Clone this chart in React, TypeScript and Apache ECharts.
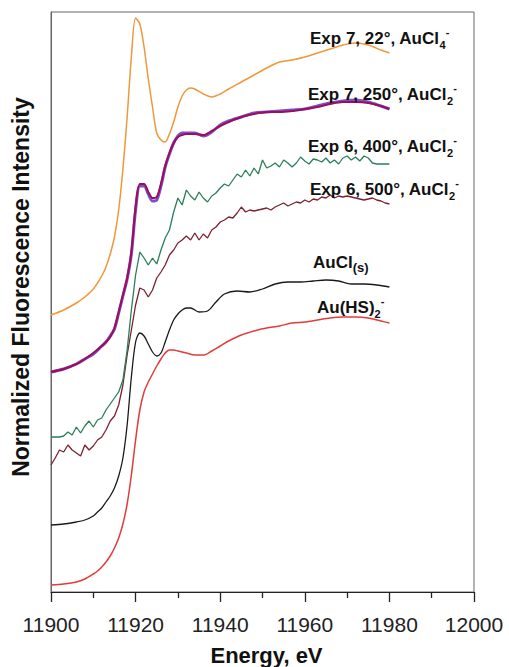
import React, { useEffect, useRef } from "react";
import * as echarts from "echarts";

const X_TICKS = [11900, 11920, 11940, 11960, 11980, 12000];

const ORANGE_E = [11900, 11903, 11906, 11908, 11910, 11911, 11912, 11913, 11914, 11915, 11916, 11917, 11918, 11919, 11920, 11921, 11922, 11923, 11924, 11925, 11926, 11927, 11928, 11929, 11930, 11931, 11932, 11933, 11934, 11936, 11938, 11940, 11942, 11945, 11948, 11951, 11954, 11957, 11960, 11963, 11966, 11969, 11972, 11975, 11978, 11980];
const ORANGE_V = [27.7, 28.2, 28.9, 29.5, 30.3, 30.9, 31.6, 32.5, 33.8, 35.5, 38.2, 42.3, 47.5, 53.5, 57.4, 56.8, 54.5, 51.3, 48.5, 45.9, 45.2, 45.0, 45.8, 47.0, 48.5, 49.6, 50.2, 50.4, 50.3, 49.8, 49.5, 49.8, 50.3, 51.0, 51.7, 52.4, 53.0, 53.2, 53.5, 53.9, 54.3, 54.7, 54.9, 54.7, 54.2, 53.9];

const MAG_E = [11900, 11903, 11906, 11908, 11910, 11912, 11913, 11914, 11915, 11916, 11917, 11918, 11919, 11920, 11921, 11922, 11923, 11924, 11925, 11926, 11927, 11928, 11929, 11930, 11931, 11932, 11934, 11936, 11938, 11940, 11942, 11945, 11948, 11951, 11954, 11957, 11960, 11963, 11966, 11969, 11972, 11975, 11978, 11980];
const MAG_V = [22.0, 22.3, 22.8, 23.3, 23.9, 24.6, 25.0, 25.5, 26.4, 28.0, 29.7, 31.4, 34.0, 38.5, 40.8, 40.8, 40.0, 39.4, 39.5, 40.8, 42.6, 43.9, 44.9, 45.5, 45.7, 45.8, 45.8, 45.7, 46.1, 46.6, 47.0, 47.5, 47.8, 48.0, 48.0, 48.1, 48.3, 48.5, 48.8, 49.0, 49.0, 48.9, 48.6, 48.3];
const FIT_V = [22.0, 22.3, 22.8, 23.3, 23.8, 24.6, 25.0, 25.6, 26.3, 27.9, 29.6, 31.3, 33.8, 38.2, 40.6, 40.6, 39.8, 39.1, 39.2, 40.6, 42.5, 43.8, 44.9, 45.6, 45.9, 45.9, 45.9, 45.6, 46.0, 46.7, 47.1, 47.5, 47.9, 48.0, 48.1, 48.2, 48.3, 48.6, 48.9, 49.1, 49.2, 49.0, 48.6, 48.3];

const NOISY_E = [11900, 11901, 11902, 11903, 11904, 11905, 11906, 11907, 11908, 11909, 11910, 11911, 11912, 11913, 11914, 11915, 11916, 11917, 11918, 11919, 11920, 11921, 11922, 11923, 11924, 11925, 11926, 11927, 11928, 11929, 11930, 11931, 11932, 11933, 11934, 11935, 11936, 11937, 11938, 11939, 11940, 11941, 11942, 11943, 11944, 11945, 11946, 11947, 11948, 11949, 11950, 11951, 11952, 11953, 11954, 11955, 11956, 11957, 11958, 11959, 11960, 11961, 11962, 11963, 11964, 11965, 11966, 11967, 11968, 11969, 11970, 11971, 11972, 11973, 11974, 11975, 11976, 11977, 11978, 11979, 11980];
const GREEN_V = [15.5, 15.5, 15.5, 15.6, 16.0, 15.7, 16.5, 15.9, 16.6, 17.1, 16.5, 17.2, 17.4, 18.2, 18.8, 19.4, 20.0, 21.2, 24.2, 28.2, 31.7, 34.0, 33.4, 32.7, 33.4, 32.8, 34.2, 35.4, 36.2, 38.0, 39.4, 38.7, 40.2, 39.6, 39.2, 40.0, 39.4, 39.0, 39.6, 39.9, 40.4, 40.8, 40.6, 41.2, 41.8, 41.5, 42.2, 41.6, 42.4, 41.8, 43.2, 42.4, 42.6, 42.9, 42.5, 43.2, 42.9, 42.5, 42.9, 43.5, 43.1, 42.8, 43.3, 43.2, 43.0, 43.4, 42.9, 43.2, 42.8, 43.4, 43.6, 43.2, 43.5, 43.1, 43.6, 43.4, 42.9, 42.8, 42.8, 42.8, 42.8];
const BROWN_V = [12.7, 13.4, 14.2, 14.0, 14.7, 14.2, 13.9, 13.6, 14.7, 14.2, 14.6, 15.2, 15.5, 16.2, 17.1, 17.6, 18.7, 20.7, 23.7, 26.2, 28.7, 30.4, 30.2, 29.5, 30.2, 31.4, 32.0, 32.7, 33.7, 34.2, 34.9, 35.2, 35.6, 35.2, 35.9, 35.2, 35.8, 35.4, 36.2, 36.5, 37.0, 37.2, 37.5, 37.4, 37.9, 38.5, 38.0, 38.2, 38.1, 38.2, 38.3, 38.4, 38.2, 38.5, 38.7, 38.9, 38.6, 38.8, 39.0, 38.9, 39.2, 39.0, 39.3, 39.2, 39.5, 39.4, 39.7, 39.4, 39.6, 39.5, 39.6, 39.5, 39.4, 39.3, 39.2, 39.3, 39.4, 39.2, 39.1, 38.9, 38.8];

const BLACK_E = [11900, 11903, 11906, 11908, 11910, 11911, 11912, 11913, 11914, 11915, 11916, 11917, 11918, 11919, 11920, 11921, 11922, 11923, 11924, 11925, 11926, 11927, 11928, 11929, 11930, 11931, 11932, 11933, 11935, 11937, 11939, 11941, 11944, 11947, 11950, 11953, 11956, 11959, 11962, 11965, 11968, 11971, 11974, 11977, 11980];
const BLACK_V = [6.7, 6.8, 7.0, 7.2, 7.6, 8.0, 8.4, 9.0, 9.6, 10.4, 11.6, 13.4, 16.7, 21.5, 25.0, 25.9, 25.6, 24.8, 24.0, 23.6, 23.9, 25.0, 26.2, 27.2, 27.8, 28.2, 28.4, 28.4, 28.0, 28.1, 29.0, 29.8, 30.1, 30.0, 30.3, 30.8, 31.0, 31.0, 31.1, 31.2, 31.1, 30.8, 30.8, 30.7, 30.5];

const RED_E = [11900, 11903, 11906, 11908, 11910, 11911, 11912, 11913, 11914, 11915, 11916, 11917, 11918, 11919, 11920, 11921, 11922, 11923, 11924, 11925, 11926, 11927, 11928, 11929, 11930, 11932, 11934, 11936, 11938, 11940, 11942, 11945, 11948, 11951, 11954, 11957, 11960, 11963, 11966, 11969, 11972, 11975, 11978, 11980];
const RED_V = [0.7, 0.8, 1.0, 1.3, 1.8, 2.1, 2.5, 3.0, 3.6, 4.4, 5.4, 6.8, 8.8, 11.7, 15.2, 18.2, 20.0, 21.0, 21.8, 22.6, 23.3, 23.9, 24.2, 24.2, 24.1, 23.9, 23.7, 23.7, 24.1, 24.6, 25.1, 25.7, 26.1, 26.4, 26.6, 26.9, 27.0, 27.2, 27.4, 27.5, 27.5, 27.4, 27.1, 26.9];

const FONT = "'Liberation Sans', Arial, Helvetica, sans-serif";

const pairs = (xs: number[], ys: number[]) => xs.map((x, i) => [x, ys[i]]);

const richStyles = {
  m: { fontSize: 17, fontWeight: "bold", lineHeight: 24, fontFamily: FONT, fill: "#111" },
  sub: { fontSize: 11, fontWeight: "bold", lineHeight: 12, verticalAlign: "bottom", fontFamily: FONT, fill: "#111" },
  sub2: { fontSize: 13, fontWeight: "bold", lineHeight: 14, verticalAlign: "bottom", fontFamily: FONT, fill: "#111" },
  sup: { fontSize: 11, fontWeight: "bold", lineHeight: 12, verticalAlign: "top", fontFamily: FONT, fill: "#111" },
};

const label = (x: number, y: number, text: string) => ({
  type: "text",
  x,
  y,
  z: 100,
  style: { text, rich: richStyles, fontFamily: FONT, fill: "#111", textVerticalAlign: "top" },
});

export default function App() {
  const ref = useRef<HTMLDivElement>(null);
  useEffect(() => {
    if (!ref.current) return;
    const chart = echarts.init(ref.current, null, { renderer: "svg" });
    const line = (name: string, data: any[], color: string, width: number, smooth: number | boolean) => ({
      name,
      type: "line",
      data,
      showSymbol: false,
      smooth,
      lineStyle: { color, width },
      itemStyle: { color },
    });
    chart.setOption({
      animation: false,
      backgroundColor: "#fff",
      grid: { left: 51, right: 35, top: 12, bottom: 75, show: true, borderColor: "#666", borderWidth: 1 },
      xAxis: {
        type: "value",
        min: 11900,
        max: 12000,
        interval: 20,
        axisLine: { show: true, lineStyle: { color: "#222", width: 1.2 } },
        axisTick: { show: true, inside: false, length: 10, lineStyle: { color: "#222", width: 1.3 } },
        minorTick: { show: true, splitNumber: 2, length: 6, lineStyle: { color: "#222", width: 1.3 } },
        splitLine: { show: false },
        axisLabel: {
          fontSize: 21,
          color: "#222",
          margin: 22,
          fontFamily: FONT,
          formatter: (v: number) => (X_TICKS.includes(v) ? String(v) : ""),
        },
      },
      yAxis: {
        type: "value",
        min: 0,
        max: 58,
        axisLine: { show: true, lineStyle: { color: "#666", width: 1 } },
        axisTick: { show: false },
        axisLabel: { show: false },
        splitLine: { show: false },
      },
      series: [
        line("Au(HS)2-", pairs(RED_E, RED_V), "#E23B3B", 1.5, 0.3),
        line("AuCl(s)", pairs(BLACK_E, BLACK_V), "#1A1A1A", 1.3, 0.3),
        line("Exp 6, 500°", pairs(NOISY_E, BROWN_V), "#7A2230", 1.3, false),
        line("Exp 6, 400°", pairs(NOISY_E, GREEN_V), "#2A7E5A", 1.3, false),
        line("Exp 7, 250° fit", pairs(MAG_E, FIT_V), "#7B4FC8", 3, 0.3),
        line("Exp 7, 250°", pairs(MAG_E, MAG_V), "#9B0E5E", 2, 0.3),
        line("Exp 7, 22°", pairs(ORANGE_E, ORANGE_V), "#F0973A", 1.5, 0.3),
      ],
      graphic: [
        label(310, 26, "{m|Exp 7, 22°, AuCl}{sub|4}{sup|-}"),
        label(308, 82, "{m|Exp 7, 250°, AuCl}{sub|2}{sup|-}"),
        label(308, 134, "{m|Exp 6, 400°, AuCl}{sub|2}{sup|-}"),
        label(310, 177, "{m|Exp 6, 500°, AuCl}{sub|2}{sup|-}"),
        label(313, 250, "{m|AuCl}{sub2|(s)}"),
        label(317, 295, "{m|Au(HS)}{sub|2}{sup|-}"),
        {
          type: "text",
          x: 266.5,
          y: 655.5,
          style: {
            text: "Energy, eV",
            fontSize: 22,
            fontWeight: "bold",
            fontFamily: FONT,
            fill: "#111",
            textAlign: "center",
            textVerticalAlign: "middle",
          },
        },
        {
          type: "text",
          x: 21,
          y: 287,
          rotation: Math.PI / 2,
          style: {
            text: "Normalized Fluorescence Intensity",
            fontSize: 23,
            fontWeight: "bold",
            fontFamily: FONT,
            fill: "#111",
            textAlign: "center",
            textVerticalAlign: "middle",
          },
        },
      ],
    });
    return () => chart.dispose();
  }, []);
  return (
    <div
      ref={ref}
      style={{ position: "fixed", left: 0, top: 0, width: 509, height: 667, background: "#fff" }}
    />
  );
}
